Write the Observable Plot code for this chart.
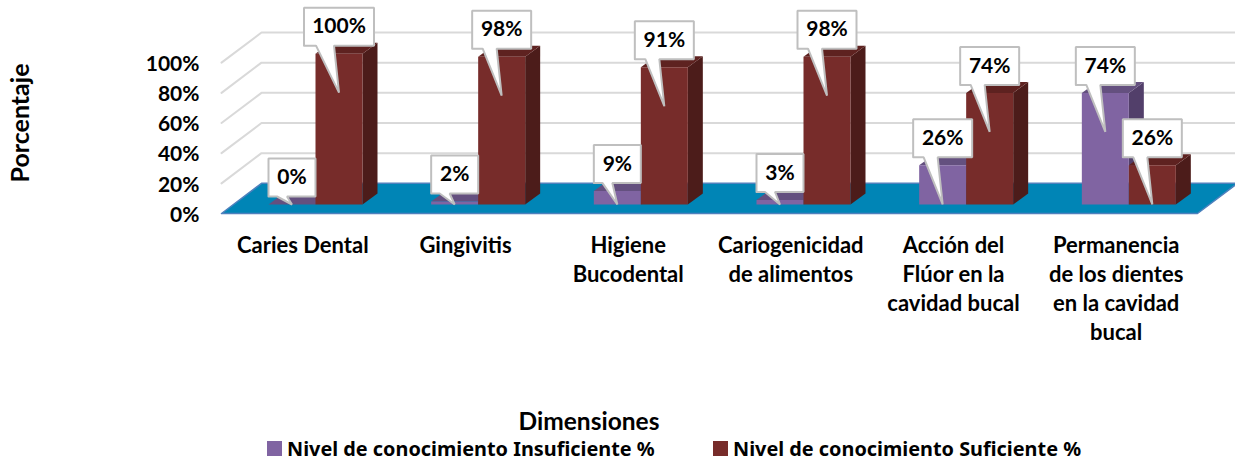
<!DOCTYPE html>
<html><head><meta charset="utf-8">
<script src="https://cdn.jsdelivr.net/npm/d3@7"></script>
<script src="https://cdn.jsdelivr.net/npm/@observablehq/plot@0.6"></script>
<style>
html,body{margin:0;padding:0;background:#fff;overflow:hidden}
body{font-family:Lato,sans-serif;font-weight:700;color:#000;width:1235px;height:463px;position:relative}
#dim{position:absolute;left:0;top:410px;width:1178px;text-align:center;font-size:24.5px;line-height:22px}
#leg{position:absolute;left:267px;top:435px}
#leg>div{margin:0!important;min-height:0!important;font-size:19.85px!important;font-weight:700}
</style></head><body>
<div id="chart"></div><div id="dim">Dimensiones</div><div id="leg"></div>
<script>
const categories=["Caries Dental","Gingivitis","Higiene\nBucodental","Cariogenicidad\nde alimentos","Acción del\nFlúor en la\ncavidad bucal","Permanencia\nde los dientes\nen la cavidad\nbucal"];
const insuficiente=[0,2,9,3,26,74];
const suficiente=[100,98,91,98,74,26];
const seriesNames=["Nivel de conocimiento Insuficiente %","Nivel de conocimiento Suficiente %"];
const seriesColors=["#8064A2","#772C2A"];
const topColors=["#64507F","#5E2220"];
const sideColors=["#523F6A","#4C1C1A"];
const yTicks=[0,20,40,60,80,100];

const H=409;
const ux=6/976, uy=120/181;           // data units per pixel
const wallX=40*ux, wallY=20;          // oblique depth of chart box
const base=9*uy, barW=47*ux, depX=15*ux, depY=11*uy, centre=94*ux;

const polys=[];
let pid=0;
const poly=(color,pts)=>{const id=pid++;pts.forEach(([x,y])=>polys.push({id,color,x,y}));};
categories.forEach((_,i)=>{
  [insuficiente[i],suficiente[i]].forEach((v,s)=>{
    const x0=i+centre+(s-1)*barW,x1=x0+barW,y0=base,y1=base+v;
    poly(sideColors[s],[[x1,y0],[x1+depX,y0+depY],[x1+depX,y1+depY],[x1,y1]]);
    poly(topColors[s],[[x0,y1],[x1,y1],[x1+depX,y1+depY],[x0+depX,y1+depY]]);
    poly(seriesColors[s],[[x0,y0],[x1,y0],[x1,y1],[x0,y1]]);
  });
});

const callouts=[],labels=[];
let cid=0;
categories.forEach((_,i)=>{
  [insuficiente[i],suficiente[i]].forEach((v,s)=>{
    const cx=i+centre+(s-1)*barW+barW/2;
    const t=String(v);
    const hw=(t.length===1?23.5:t.length===2?29.5:35)*ux;
    const top=base+v;
    const bb=top+8*uy, bt=bb+38*uy;
    const tipY=Math.max(top-39*uy,base);
    const l=(t.length===3?23:v<10?15:19)*ux, r=5*ux;
    const id=cid++;
    [[cx-hw,bb],[cx-l,bb],[cx,tipY],[cx-r,bb],[cx+hw,bb],[cx+hw,bt],[cx-hw,bt],[cx-hw,bb]]
      .forEach(([x,y])=>callouts.push({id,x,y}));
    labels.push({x:cx,y:bb+19*uy,t:v+"%"});
  });
});

const grid=yTicks.slice(1).flatMap(v=>[[0,v],[wallX,v+wallY],[6+wallX,v+wallY]].map(([x,y])=>({v,x,y})));
const floor=[[0,0],[6,0],[6+wallX,wallY],[wallX,wallY],[0,0]].map(([x,y])=>({x,y}));

const plot=Plot.plot({
  width:1235,height:H,
  marginLeft:221,marginRight:38,marginTop:32,marginBottom:H-213,
  style:{fontFamily:"Lato, sans-serif",fontWeight:700,fontSize:"21px",color:"#000",background:"transparent",overflow:"visible"},
  x:{domain:[0,6]},
  y:{domain:[0,120]},
  color:{type:"identity"},
  marks:[
    Plot.line(grid,{x:"x",y:"y",z:"v",stroke:"#D9D9D9",strokeWidth:2}),
    Plot.line(floor,{x:"x",y:"y",fill:"#0085B6",stroke:"#4F81BD",strokeWidth:1.5}),
    Plot.line(polys,{x:"x",y:"y",z:"id",fill:"color",stroke:"none"}),
    Plot.line(callouts,{x:"x",y:"y",z:"id",fill:"white",stroke:"#BFBFBF",strokeWidth:2,strokeLinejoin:"miter"}),
    Plot.text(labels,{x:"x",y:"y",text:"t",fontSize:21,fontWeight:700,fill:"#000"}),
    Plot.axisY({ticks:yTicks,tickSize:0,tickPadding:22,dy:1.5,tickFormat:d=>d+"%",fontSize:21,fontWeight:700,label:null}),
    Plot.axisX({ticks:categories.map((_,i)=>i+.5),tickSize:0,tickPadding:19,tickFormat:d=>categories[d-.5],fontSize:22,fontWeight:700,lineHeight:1.32,label:null}),
    Plot.text(["Porcentaje"],{frameAnchor:"left",textAnchor:"middle",dx:-201,rotate:-90,fontSize:25,fontWeight:700,fill:"#000"})
  ]
});
document.getElementById("chart").appendChild(plot);
const lg=Plot.legend({color:{type:"ordinal",domain:seriesNames,range:seriesColors},swatchSize:15,className:"lg"});
document.getElementById("leg").appendChild(lg);
const st=document.createElement("style");
st.textContent=".lg-swatch{margin-right:0!important}.lg-swatch svg{margin-right:5px!important}.lg-swatch:first-of-type{width:446px}";
document.head.appendChild(st);
</script></body></html>
